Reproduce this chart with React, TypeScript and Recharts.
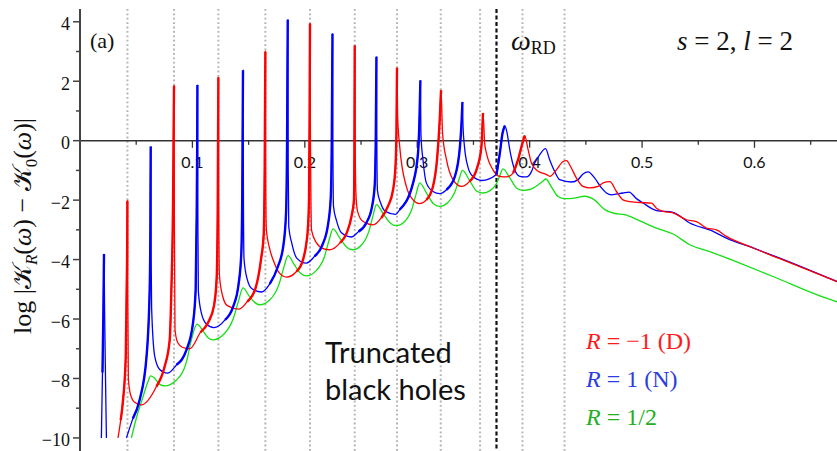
import React from 'react';
import { LineChart, Line, XAxis, YAxis, ReferenceLine } from 'recharts';

// trapped-mode frequencies (gray dotted) and ringdown frequency (black dashed)
const modeFreqs = [0.0422, 0.0836, 0.1231, 0.1649, 0.2046, 0.2444, 0.282, 0.3209, 0.3559, 0.3936, 0.431];
const omegaRD = 0.3705;

const xMajor = [0.1, 0.2, 0.3, 0.4, 0.5, 0.6];
const xMinor = [0.05, 0.15, 0.25, 0.35, 0.45, 0.55, 0.65];
const yTicks = [-10, -9, -8, -7, -6, -5, -4, -3, -2, -1, 0, 1, 2, 3, 4];

// R = -1 (D)
const dirichlet: [number, number | null][] = [
  [0.0338, -10], [0.0362, -9.4], [0.0383, -8.72], [0.0407, -7.26], [0.0415, -5.0], [0.042, -3.5], [0.04217, -2.02],
  [0.0425, -5.0], [0.043, -8.0], [0.045, -8.55], [0.0486, -8.8], [0.0546, -8.89],
  [0.068, -8.27], [0.0753, -7.6], [0.0798, -6.7], [0.0813, -5.0], [0.0828, -2.0], [0.08363, 1.85],
  [0.084, -3.0], [0.0845, -6.36], [0.087, -6.8], [0.091, -6.95], [0.0976, -7.0],
  [0.1071, -6.45], [0.1142, -6.1], [0.1192, -5.55], [0.1216, -4.6], [0.1225, -2.3], [0.1231, 2.13],
  [0.1235, -2.55], [0.124, -4.5], [0.1267, -5.2], [0.1311, -5.55], [0.1415, -5.67],
  [0.1489, -5.41], [0.156, -4.98], [0.161, -4.0], [0.1634, -3.16], [0.1643, -0.9], [0.1649, 3.0],
  [0.1653, -1.8], [0.1658, -3.0], [0.1685, -3.6], [0.1717, -4.0], [0.1773, -4.45], [0.1836, -4.59],
  [0.1926, -4.4], [0.1984, -4.0], [0.2014, -3.44], [0.2028, -2.9], [0.2037, -2.0], [0.2042, 0.5], [0.2046, 3.94],
  [0.205, 0.0], [0.2055, -2.2], [0.2059, -3.0], [0.2104, -3.44], [0.2162, -3.63], [0.2222, -3.67],
  [0.2313, -3.44], [0.2373, -3.1], [0.2415, -2.55], [0.2437, -2.0], [0.2441, -0.5], [0.2444, 3.2],
  [0.2448, 0.0], [0.2453, -1.6], [0.2462, -2.2], [0.2473, -2.43], [0.2518, -2.72], [0.2607, -2.83],
  [0.268, -2.6], [0.274, -2.2], [0.2785, -1.65], [0.2806, -0.9], [0.2815, 0.3], [0.282, 2.45],
  [0.2826, 0.8], [0.2844, -0.19], [0.2903, -1.54], [0.2963, -1.99], [0.302, -2.12],
  [0.3081, -1.99], [0.314, -1.54], [0.3176, -0.64], [0.32, 0.7], [0.3212, 1.7],
  [0.3225, 0.26], [0.326, -0.64], [0.3318, -1.31], [0.3393, -1.54],
  [0.3465, -1.37], [0.3527, -0.98], [0.3571, -0.19], [0.3585, 0.93],
  [0.36, -0.1], [0.3615, -0.41], [0.3674, -0.98], [0.3734, -1.2], [0.3793, -1.22],
  [0.3853, -1.09], [0.3897, -0.64], [0.3936, -0.08], [0.3956, 0.17],
  [0.3986, -0.3], [0.4016, -0.75], [0.4075, -1.03], [0.415, -1.14], [0.418, -1.2],
  [0.4238, -0.98], [0.4297, -0.7], [0.4327, -0.67], [0.4371, -0.92], [0.4416, -1.26], [0.4475, -1.54], [0.4534, -1.59],
  [0.4609, -1.54], [0.4653, -1.42], [0.4713, -1.38], [0.4772, -1.71], [0.4831, -1.99], [0.4875, -2.04],
  [0.498, -2.08], [0.5084, -2.1], [0.5128, -2.27], [0.5187, -2.38],
  [0.5276, -2.43], [0.5395, -2.66], [0.5484, -2.72], [0.5573, -2.94], [0.5662, -3.0], [0.5751, -3.22],
  [0.5988, -3.61], [0.6225, -3.97], [0.6734, -4.74],
];

// R = 1 (N)
const neumann: [number, number | null][] = [
  [0.019, -10], [0.02, -7.8], [0.0208, -5.8], [0.02135, -3.81], [0.0219, -5.8], [0.0227, -8.0], [0.0235, -10],
  [0.03, null],
  [0.0413, -10], [0.047, -9.35], [0.0532, -8.7], [0.0591, -7.3], [0.062, -5.0], [0.0626, -3.0], [0.0629, -0.2],
  [0.0633, -4.0], [0.0637, -5.6], [0.0665, -7.26], [0.0709, -7.7], [0.0778, -7.82],
  [0.0858, -7.54], [0.0947, -7.04], [0.1005, -6.14], [0.1029, -5.0], [0.1038, -2.5], [0.1042, -0.5], [0.10445, 1.87],
  [0.1049, -3.03], [0.1053, -5.07], [0.108, -5.8], [0.1125, -6.17], [0.119, -6.29],
  [0.129, -6.03], [0.1361, -5.6], [0.1411, -4.82], [0.1435, -3.78], [0.1444, -1.53], [0.145, 2.37],
  [0.1454, -2.11], [0.1459, -3.97], [0.1486, -4.64], [0.153, -4.98], [0.1617, -5.09],
  [0.1688, -4.82], [0.1759, -4.25], [0.1809, -3.53], [0.1833, -2.43], [0.1842, -0.05], [0.1848, 4.07],
  [0.1852, -0.84], [0.1857, -2.89], [0.1884, -3.45], [0.1928, -3.95], [0.2012, -4.12],
  [0.2086, -3.89], [0.2157, -3.5], [0.2207, -2.81], [0.2231, -1.88], [0.224, 0.13], [0.2246, 3.6],
  [0.225, -0.5], [0.2255, -2.21], [0.2282, -2.69], [0.2326, -3.1], [0.2413, -3.24],
  [0.2477, -3.06], [0.2548, -2.76], [0.2598, -2.21], [0.2622, -1.48], [0.2631, 0.09], [0.2637, 2.82],
  [0.2641, -0.36], [0.2646, -1.68], [0.2673, -2.08], [0.2717, -2.38], [0.2807, -2.48],
  [0.2844, -2.32], [0.2963, -1.42], [0.3007, -0.41], [0.3019, 0.6], [0.3028, 2.03],
  [0.3033, 0.2], [0.3051, -0.64], [0.3081, -1.42], [0.314, -1.71], [0.32, -1.78],
  [0.326, -1.65], [0.3335, -1.2], [0.338, -0.19], [0.3394, 0.6], [0.3402, 1.3],
  [0.3407, 0.5], [0.342, -0.19], [0.345, -0.87], [0.3494, -1.2], [0.3575, -1.34],
  [0.3704, -1.14], [0.3735, -0.41], [0.3759, 0.26], [0.3779, 0.505], [0.3799, 0.26], [0.3823, -0.3],
  [0.3867, -0.98], [0.3912, -1.2], [0.3972, -1.22],
  [0.4015, -1.05], [0.4045, -0.75], [0.409, -0.47], [0.4141, -0.27], [0.4178, -0.64], [0.4222, -1.03],
  [0.4267, -1.31], [0.4372, -1.39],
  [0.443, -1.31], [0.4475, -1.12], [0.452, -1.05], [0.4579, -1.26], [0.4639, -1.59], [0.4683, -1.76], [0.4728, -1.82],
  [0.483, -1.76], [0.4884, -1.73], [0.495, -1.95], [0.5006, -2.09], [0.5128, -2.35], [0.5276, -2.41],
  [0.5424, -2.77], [0.5632, -3.05], [0.5751, -3.28], [0.5988, -3.61], [0.6225, -3.95], [0.6734, -4.74],
];

// R = 1/2
const half: [number, number | null][] = [
  [0.0457, -10], [0.0502, -9.32], [0.0561, -8.61], [0.0605, -8.1], [0.0629, -7.91],
  [0.0665, -7.99], [0.0709, -8.2], [0.0754, -8.25],
  [0.0858, -8.05], [0.0947, -7.44], [0.0991, -6.7], [0.1041, -6.17],
  [0.1094, -6.4], [0.1139, -6.63], [0.1183, -6.7],
  [0.1277, -6.52], [0.1362, -6.0], [0.141, -5.39], [0.145, -4.95],
  [0.1502, -5.21], [0.1554, -5.44], [0.1599, -5.52],
  [0.1687, -5.36], [0.1768, -4.86], [0.1812, -4.28], [0.1851, -3.87],
  [0.1907, -4.18], [0.1965, -4.47], [0.2014, -4.55],
  [0.2097, -4.39], [0.2173, -3.92], [0.2215, -3.36], [0.2251, -2.97],
  [0.2313, -3.29], [0.2375, -3.59], [0.2429, -3.67],
  [0.2502, -3.52], [0.2569, -3.06], [0.2606, -2.53], [0.2637, -2.15],
  [0.2699, -2.47], [0.2762, -2.78], [0.2815, -2.86],
  [0.2888, -2.72], [0.2954, -2.28], [0.2991, -1.78], [0.3022, -1.42],
  [0.3085, -1.78], [0.3147, -2.13], [0.32, -2.21],
  [0.327, -2.09], [0.3335, -1.73], [0.3372, -1.3], [0.3402, -1.0],
  [0.3466, -1.34], [0.353, -1.7], [0.3585, -1.76],
  [0.3648, -1.68], [0.3705, -1.44], [0.3737, -1.15], [0.3763, -0.95],
  [0.3826, -1.27], [0.3888, -1.61], [0.3941, -1.67],
  [0.4012, -1.63], [0.4077, -1.48], [0.4119, -1.36], [0.4143, -1.29],
  [0.4193, -1.55], [0.4253, -1.88], [0.4312, -1.95],
  [0.4401, -1.93], [0.449, -1.87], [0.4579, -2.0], [0.4668, -2.32], [0.4757, -2.45], [0.4846, -2.49],
  [0.4979, -2.7], [0.5128, -2.94], [0.5276, -3.14], [0.5424, -3.5], [0.5602, -3.73], [0.5869, -4.12],
  [0.6165, -4.57], [0.664, -5.3], [0.6734, -5.42],
];

// rows for recharts; `up` keeps only the steep rising flanks (drawn heavier, as in the original)
const toRows = (pts: [number, number | null][]) =>
  pts.map(([w, v], i) => {
    const prev = i > 0 ? pts[i - 1][1] : null;
    const rising = v != null && prev != null && v > prev && w < 0.4;
    return { w, v, up: rising ? v : null };
  });

const serif = '"Liberation Serif", "DejaVu Serif", serif';
const sans = 'Lato, "Open Sans", sans-serif';
const AXIS = '#444';

const YTick = (props: any) => {
  const { x, y, payload } = props;
  const v = payload.value as number;
  const major = v % 2 === 0;
  return (
    <g>
      <line x1={x - (major ? 7 : 4)} x2={x} y1={y} y2={y} stroke={AXIS} strokeWidth={1.5} />
      {major && (
        <text x={x - 10} y={y + 8.5} textAnchor="end" fontFamily={serif} fontSize={18} fill="#111">
          {v < 0 ? `\u2212${Math.abs(v)}` : v}
        </text>
      )}
    </g>
  );
};

const XTickLabel = (props: any) => {
  const vb = props.viewBox || {};
  return (
    <text x={vb.x} y={vb.y + 27} textAnchor="middle" fontFamily={sans} fontSize={16} fill="#111">
      {props.text}
    </text>
  );
};

const abs = (left: number, top: number, extra: React.CSSProperties = {}): React.CSSProperties => ({
  position: 'absolute',
  left,
  top,
  whiteSpace: 'nowrap',
  ...extra,
});

const series = [
  { pts: half, color: '#14e014', heavy: false },
  { pts: neumann, color: '#0000ff', heavy: true },
  { pts: dirichlet, color: '#ff0000', heavy: true },
];

export default function App() {
  return (
    <div style={{ position: 'absolute', left: 0, top: 0, width: 837, height: 451, background: '#fff', overflow: 'hidden' }}>
      <LineChart width={837} height={451} margin={{ top: 9, right: 0, bottom: 0, left: 0 }}>
        <XAxis
          type="number"
          dataKey="w"
          orientation="top"
          domain={[0, 0.6734]}
          allowDataOverflow
          height={0}
          tick={false}
          tickLine={false}
          axisLine={{ stroke: AXIS, strokeWidth: 2 }}
        />
        <YAxis
          type="number"
          domain={[-10.44, 4.43]}
          allowDataOverflow
          ticks={yTicks}
          interval={0}
          width={80}
          tickSize={0}
          tickMargin={0}
          tick={<YTick />}
          axisLine={{ stroke: AXIS, strokeWidth: 2 }}
        />
        {modeFreqs.map((w) => (
          <ReferenceLine key={`m${w}`} x={w} stroke="#b4b4b4" strokeWidth={2} strokeDasharray="1.8 2.6" />
        ))}
        <ReferenceLine x={omegaRD} stroke="#111" strokeWidth={2.2} strokeDasharray="4 2.5" />
        <ReferenceLine y={0} stroke="#333" strokeWidth={1.5} />
        {xMinor.map((t) => (
          <ReferenceLine key={`n${t}`} segment={[{ x: t, y: 0 }, { x: t, y: -0.14 }]} stroke="#333" strokeWidth={1.3} />
        ))}
        {xMajor.map((t) => (
          <ReferenceLine
            key={`j${t}`}
            segment={[{ x: t, y: 0 }, { x: t, y: -0.24 }]}
            stroke="#333"
            strokeWidth={1.3}
            label={<XTickLabel text={String(t)} />}
          />
        ))}
        {series.map((s) => (
          <Line
            key={s.color}
            data={toRows(s.pts)}
            dataKey="v"
            type="monotone"
            stroke={s.color}
            strokeWidth={1.3}
            dot={false}
            isAnimationActive={false}
          />
        ))}
        {series
          .filter((s) => s.heavy)
          .map((s) => (
            <Line
              key={`${s.color}-up`}
              data={toRows(s.pts)}
              dataKey="up"
              type="monotone"
              stroke={s.color}
              strokeWidth={2.4}
              dot={false}
              isAnimationActive={false}
            />
          ))}
      </LineChart>

      <div style={abs(-127, 211, { width: 300, height: 30, lineHeight: '30px', textAlign: 'center', transform: 'rotate(-90deg)', fontFamily: serif, fontSize: 26, color: '#111' })}>
        log |𝒦<sub style={{ fontSize: 17, fontStyle: 'italic' }}>R</sub>(<i>ω</i>) − 𝒦<sub style={{ fontSize: 17 }}>0</sub>(<i>ω</i>)|
      </div>

      <div style={abs(90, 29.6, { fontFamily: serif, fontSize: 22, lineHeight: '22px', color: '#111' })}>(a)</div>

      <div style={abs(511, 27, { fontFamily: serif, fontSize: 28, lineHeight: '28px', color: '#111' })}>
        <i>ω</i>
        <span style={{ fontSize: 18, position: 'relative', top: 4 }}>RD</span>
      </div>

      <div style={abs(677, 28, { fontFamily: serif, fontSize: 27, lineHeight: '27px', color: '#111' })}>
        <i>s</i> = 2, <i>l</i> = 2
      </div>

      <div style={abs(325, 333, { fontFamily: sans, fontSize: 29, lineHeight: '37px', color: '#111' })}>
        Truncated
        <br />
        black holes
      </div>

      <div style={abs(586, 322, { fontFamily: serif, fontSize: 24, lineHeight: '38px' })}>
        <div style={{ color: '#ff1a1a' }}>
          <i>R</i> = −1 (D)
        </div>
        <div style={{ color: '#2b3ee0' }}>
          <i>R</i> = 1 (N)
        </div>
        <div style={{ color: '#22b022' }}>
          <i>R</i> = 1/2
        </div>
      </div>
    </div>
  );
}
